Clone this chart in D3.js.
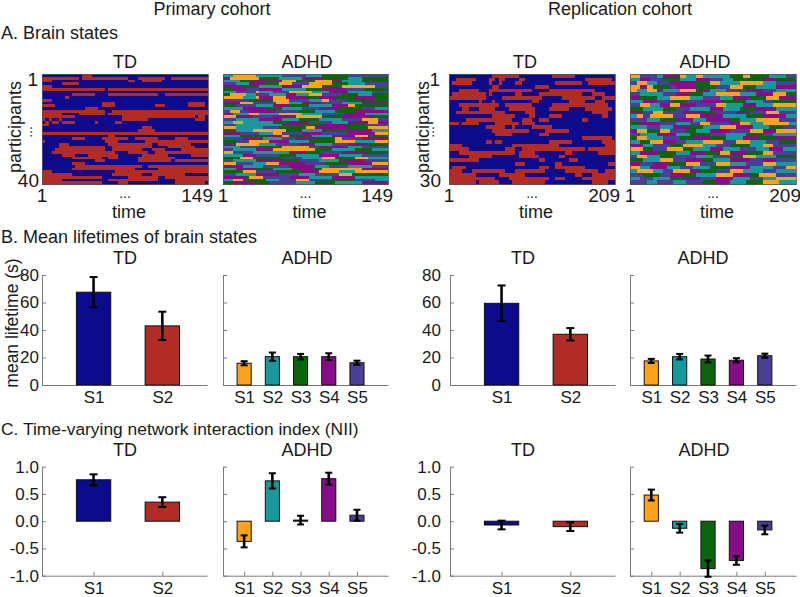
<!DOCTYPE html>
<meta charset="utf-8">
<style>
body { margin: 0; background: #fff; }
svg { font-family: 'Liberation Sans', Arial, sans-serif; fill: #1a1a1a; }
.axis path, .axis line { stroke: #7a7a7a; stroke-width: 1; }
.axis text { fill: #1a1a1a; font-family: 'Liberation Sans', Arial, sans-serif; }
</style>
<body>
<div id="fig"></div>
<script src="https://d3js.org/d3.v7.min.js"></script>
<script>
// state sequences at 50 time blocks per participant
// each row: "<state><first block>" change points, b/r = TD S1/S2, o t g p s = ADHD S1..S5
var nBlocks = 50;

var tdPrimary = [
  "b0 r12 b15", "r0 b11 r12 b26 r29 b37 r39", "r0 b3 r26 b28 r30 b36", "b0 r6 b11", "r0 b3",
  "r0 b19 r20", "b0", "b0 r9 b16 r20 b35 r37", "b0 r7 b8", "r0 b3",
  "b0 r18 b22 r44 b49", "r0 b4 r18 b22 r34 b37 r44 b49", "b0 r13 b17", "r0 b19 r21", "r0 b6 r11 b19 r20",
  "r0 b10 r24 b46 r47 b49", "r0 b1 r2 b3 r5 b6 r24 b32 r46 b49", "b0 r1 b2 r3 b5 r6 b10 r16 b17 r22 b24", "r0 b2", "b0 r30 b33",
  "b0 r29 b34", "r0", "b0 r20 b22", "b0 r9 b13 r18 b26 r28 b35 r40 b44", "r0 b1 r19 b23 r31",
  "b0 r5 b8 r20 b33 r35 b45", "b0 r5 b19 r21 b33 r38 b46", "b0 r4 b19 r21 b30 r33 b37 r42", "b0 r3 b22 r26 b32 r34", "b0 r6 b10 r14 b23 r30 b38 r45",
  "b0 r9 b18 r20 b23 r29 b40", "b0 r16 b19 r29 b39 r40", "b0 r9 b13", "b0 r10 b30 r32", "b0 r9 b28 r35",
  "r0 b3 r22", "r0 b9 r21 b30 r33 b43", "r0 b18 r26 b35 r37", "r0 b6 r20 b35 r40", "r0 b18 r23 b26 r40 b49"
];

var adhdPrimary = [
  "t0 o3 t10 s18 t25 g30 s38", "p0 o2 g11 t17 p24 g30 t38 g42", "t0 g5 p10 o18 g22 o28 p33 t36 g42",
  "s0 t4 p8 g12 o17 s21 o26 g33 t38 s43", "p0 g6 t11 p18 o24 g30 o36 s46", "g0 p3 s7 p11 t18 g25 p30 s37 g43",
  "t0 s4 o10 t11 s15 o20 t27 p32 t38 s45", "g0 o2 t7 s10 t14 p19 t22 o26 s30 g36 t41 g45", "o0 t6 o10 p11 o15 p19 g25 p29 g34 p40 g46",
  "s0 g8 o15 s20 t26 o30 s32 g38", "p0 o5 s9 o16 t20 p24 s30 t36 p42", "g0 s4 t10 p15 g20 t26 p33 o38 g40",
  "t0 p6 g13 t18 s24 p29 g35 s42 t46", "s0 o2 s5 p8 s16 g23 t28 g34 p40", "p0 t3 o8 t11 o17 t24 s30 p37 t43",
  "o0 p4 s9 p15 o22 g30 p36 g45", "s0 t4 p11 t18 g23 t29 s36 o42 s47", "t0 o3 t6 g15 p20 s26 t33 p38 o44 p47",
  "s0 t4 p18 g24 p31 g37 s43", "o0 t4 s12 g17 o25 p28 g38 o44", "g0 t4 o9 g19 t24 g30 p38 t45",
  "p0 s5 t11 o15 s18 p24 s30 p38 o46", "t0 g5 p13 o18 g20 t27 p33 o40 g44", "s0 p6 t12 s18 p22 g28 o34 s36 p42",
  "g0 s4 o8 p14 t20 g26 o34 t40 o46", "p0 o4 t11 s16 p23 t28 s33 p38 g44", "t0 s5 g10 o18 s26 p29 t38 s42",
  "s0 t3 p10 o15 g28 t33 g40 t45", "o0 s3 t9 p20 g25 s30 p36 g44", "t0 p6 s10 g17 t22 p29 t35 s42",
  "g0 o5 g9 s18 t24 o30 g34 o40 t44", "s0 t3 p10 g18 s23 t29 p35 s43", "o0 s4 t9 o13 p17 s25 g31 p38 o45",
  "p0 t6 s12 p20 t28 s32 t38 s45", "t0 p4 g10 t15 p21 g27 o30 p42", "g0 o6 s10 g16 p24 o29 t35 o40",
  "s0 t4 p10 s17 t23 s28 o35 g39", "p0 g7 o8 s12 p20 t26 p33 t40", "t0 o3 g6 t13 s17 o22 s26 g33 s40 t46",
  "g0 p3 g10 s14 t22 g28 t34 p42"
];

var tdReplication = [
  "b0 r13 b21 r31 b38", "b0 r2 b8 r12 b14 r15 b17 r21 b23 r41 b49", "b0 r1 b7 r12 b13 r15 b16 r20 b22 r32 b40 r42",
  "b0 r13 b15 r26 b30", "b0 r3 b9 r12 b25 r30 b44", "b0 r1 b11 r12 b13 r20 b22 r27 b40 r43 b47",
  "r0 b11 r16 b28 r34 b44 r46", "b0 r9 b10 r13 b14 r25 b27 r36 b41 r44 b47", "b0 r3 b15 r17 b25 r31 b48",
  "b0 r4 b6 r9 b14 r18 b26 r30 b36 r41 b49", "b0 r2 b17 r23 b26 r43 b48", "b0 r13 b20 r24 b26 r30 b34 r46 b48",
  "b0 r5 b19 r22 b25 r27 b30 r40 b42", "r0 b3 r4 b9 r14 b21 r22 b26", "b0 r11 b17 r19 b20 r25 b31",
  "b0 r13 b24 r29 b36", "b0 r14 b19 r27 b30", "b0 r40 b49",
  "b0 r11 b13 r14 b16 r30 b37 r46", "r0 b4 r19 b33 r47", "r0 b6 r17 b20 r22 b41 r42",
  "b0 r3 b20 r21 b26 r35 b37 r45", "b0 r6 b13 r21 b27 r33 b35", "r0 b9 r27 b29 r36 b39",
  "b0 r20 b23 r32 b34 r48", "b0 r1 b5 r27 b30 r32 b41", "r0 b4 r7 b17 r20 b29 r35 b45 r47",
  "r0 b8 r15 b23 r38 b40 r43", "r0 b14 r18 b30 r32 b35 r40", "r0 b8 r9 b15 r19 b29 r43 b48"
];

var adhdReplication = [
  "o0 s3 t8 p10 o15 t17 o20 t22 g30 o34 g36 t42 s47", "t0 p3 s6 g10 t15 p20 s24 t28 g31 p40 g44",
  "s0 o2 t5 s8 p12 g20 o24 t27 o33 t40 s44", "o0 p3 o5 g7 s12 p14 g20 s26 o30 g34 t38 p44",
  "o0 t2 o5 p8 t10 o15 p20 t24 s29 p35 s40 t44", "s0 t3 s10 p14 g18 t22 o26 t33 p38 o43 g47",
  "p0 g3 t8 o12 t18 s22 t27 p31 g36 o41 p45", "t0 p4 s8 g13 s17 p21 g28 t35 s40 g43",
  "s0 o3 t6 p9 o12 p15 s20 o26 t29 p34 t38 o43", "g0 t4 g10 s14 t18 p24 t28 g33 p38 t44",
  "p0 s4 o7 s10 p16 g22 s26 p32 s36 o41 s45", "t0 o2 s4 o6 s13 o17 p21 t28 g35 p40 t47",
  "s0 t5 g9 p14 t19 p23 g30 t33 o38 s45", "g0 p3 s9 t14 s18 o21 s24 p30 o33 t36 o40 t48",
  "t0 s5 t9 p13 g18 t22 o27 p32 t37 g42 s46", "p0 o2 g5 o9 s12 g17 t20 p24 s30 o36 p40 o44",
  "s0 t3 p8 t14 g18 s24 t29 g35 s40 t43", "g0 o2 t5 s10 g15 p19 g24 t29 p34 g39 p44",
  "t0 g3 o6 p10 s14 t17 o22 s28 o32 t36 s41 g45", "p0 t4 s7 g12 o16 t22 s26 g30 t36 o40 s43",
  "o0 g4 s7 o11 g16 t19 p24 t28 s33 t38 p42 t46", "t0 p3 g8 t14 p18 g23 o27 p30 g35 o40 s43",
  "s0 o2 t5 g9 s13 t20 s25 g31 o34 t38 g44", "g0 t4 o9 s13 p17 g22 t25 p30 s36 p40 s44",
  "p0 s3 p7 g11 o17 s21 o26 t30 s35 o40 t44", "o0 t3 p6 t11 s15 t19 g24 p30 t36 s43 o47",
  "t0 o2 t7 s10 o13 p18 g21 s26 o30 t34 s40 t44", "s0 g4 s9 p12 g16 t20 o26 p31 g36 o39 s44",
  "t0 s3 t7 g12 p16 s21 p26 t31 s36 t40 o44", "s0 t5 s8 t13 s17 g22 p26 t30 g35 o40 t45"
];

var tdStates = ["S1", "S2"];
var adhdStates = ["S1", "S2", "S3", "S4", "S5"];
var tdCodes = ["b", "r"];
var adhdCodes = ["o", "t", "g", "p", "s"];

// mean lifetime (s) and its error
var lifePrimTD = [67.5, 43.0],        lifePrimTDErr = [11, 10.3];
var lifePrimADHD = [15.8, 20.6, 20.6, 20.6, 16.2], lifePrimADHDErr = [1.5, 3, 2, 2.5, 1.5];
var lifeRepTD = [59.4, 36.9],         lifeRepTDErr = [13, 4.5];
var lifeRepADHD = [17.5, 20.6, 18.9, 18.0, 21.3],  lifeRepADHDErr = [1.5, 2, 2.5, 1.5, 1.5];

// network interaction index
var niiPrimTD = [0.76, 0.35],         niiPrimTDErr = [0.1, 0.09];
var niiPrimADHD = [-0.37, 0.74, 0.02, 0.78, 0.11], niiPrimADHDErr = [0.11, 0.14, 0.08, 0.11, 0.1];
var niiRepTD = [-0.07, -0.1],         niiRepTDErr = [0.08, 0.08];
var niiRepADHD = [0.48, -0.13, -0.87, -0.72, -0.16], niiRepADHDErr = [0.1, 0.08, 0.15, 0.08, 0.08];

var lifeTicks = [0, 20, 40, 60, 80];
var niiTicks = [-1, -0.5, 0, 0.5, 1];

var stateColor = {
  b: "#0b0b8c", r: "#b22b24",
  o: "#ffa31c", t: "#16999b", g: "#0b650b", p: "#890b8a", s: "#4a3f97"
};

var svg = d3.select('#fig')
            .append('svg')
            .attr('width', 800)
            .attr('height', 597);

function label(x, y, txt, size, anchor, rot) {
  var t = svg.append('text')
     .attr('x', x)
     .attr('y', y)
     .attr('font-size', size)
     .attr('text-anchor', anchor || 'start')
     .text(txt);
  if (rot) t.attr('transform', 'rotate(' + rot + ',' + x + ',' + y + ')');
  return t;
}

function runs(str) {
  var t = str.trim().split(/\s+/).map(function(s) { return {code: s[0], start: +s.slice(1)}; });
  t.forEach(function(d, i) { d.end = i < t.length - 1 ? t[i + 1].start : nBlocks; });
  return t;
}

function heatmap(rows, x0, x1) {
  var x = d3.scaleLinear().domain([0, nBlocks]).range([x0, x1]);
  var y = d3.scaleBand().domain(d3.range(rows.length)).range([74, 184]);
  var g = svg.append('g').attr('shape-rendering', 'crispEdges');
  rows.forEach(function(r, i) {
    g.selectAll(null)
      .data(runs(r))
      .enter().append('rect')
      .attr('x', function(d) { return x(d.start); })
      .attr('width', function(d) { return x(d.end) - x(d.start); })
      .attr('y', y(i))
      .attr('height', y.bandwidth() + 0.5)
      .attr('fill', function(d) { return stateColor[d.code]; });
  });
  g.append('rect')
    .attr('x', x0).attr('y', 74)
    .attr('width', x1 - x0).attr('height', 110)
    .attr('fill', 'none').attr('stroke', '#555').attr('stroke-width', 0.8);
}

function barPanel(o) {
  var n = o.cats.length;
  var x = d3.scaleLinear().domain([0.25, n === 2 ? 2.65 : 6.1]).range([o.x0, o.x1]);
  var y = o.y;
  var g = svg.append('g');

  g.append('g')
    .attr('class', 'axis')
    .attr('transform', 'translate(' + o.x0 + ',0)')
    .call(d3.axisLeft(y).tickValues(o.ticks).tickSizeInner(-4).tickSizeOuter(0)
      .tickPadding(o.pad)
      .tickFormat(o.showLabels ? o.fmt : ''))
    .selectAll('text').attr('font-size', 17);

  g.append('g')
    .attr('class', 'axis')
    .attr('transform', 'translate(0,' + y.range()[0] + ')')
    .call(d3.axisBottom(x).tickValues(d3.range(1, n + 1)).tickSizeInner(-4).tickSizeOuter(0)
      .tickPadding(6)
      .tickFormat(function(d) { return o.cats[d - 1]; }))
    .selectAll('text').attr('font-size', 17);

  var data = o.vals.map(function(v, i) { return {i: i + 1, v: v, e: o.errs[i], c: o.codes[i]}; });

  g.selectAll('rect.bar').data(data).enter().append('rect')
    .attr('class', 'bar')
    .attr('x', function(d) { return x(d.i - 0.25); })
    .attr('width', x(1.25) - x(0.75))
    .attr('y', function(d) { return y(Math.max(0, d.v)); })
    .attr('height', function(d) { return Math.abs(y(0) - y(d.v)); })
    .attr('fill', function(d) { return stateColor[d.c]; })
    .attr('stroke', '#111').attr('stroke-width', 1);

  var cap = n === 2 ? 4 : 3.5;
  var eb = g.selectAll('g.err').data(data).enter().append('g')
    .attr('stroke', '#000').attr('stroke-width', 2.6);
  eb.append('line')
    .attr('x1', function(d) { return x(d.i); }).attr('x2', function(d) { return x(d.i); })
    .attr('y1', function(d) { return y(d.v - d.e); }).attr('y2', function(d) { return y(d.v + d.e); });
  eb.append('line')
    .attr('x1', function(d) { return x(d.i) - cap; }).attr('x2', function(d) { return x(d.i) + cap; })
    .attr('y1', function(d) { return y(d.v + d.e); }).attr('y2', function(d) { return y(d.v + d.e); })
    .attr('stroke-width', 2);
  eb.append('line')
    .attr('x1', function(d) { return x(d.i) - cap; }).attr('x2', function(d) { return x(d.i) + cap; })
    .attr('y1', function(d) { return y(d.v - d.e); }).attr('y2', function(d) { return y(d.v - d.e); })
    .attr('stroke-width', 2);
}

// headers
label(212, 15, 'Primary cohort', 18, 'middle');
label(620, 15, 'Replication cohort', 18, 'middle');

// A. brain states
label(1, 39, 'A. Brain states', 18);
label(125, 68, 'TD', 18, 'middle');
label(307, 68, 'ADHD', 18, 'middle');
label(525, 68, 'TD', 18, 'middle');
label(705, 68, 'ADHD', 18, 'middle');

heatmap(tdPrimary, 42, 208);
heatmap(adhdPrimary, 223, 388);
heatmap(tdReplication, 449, 615);
heatmap(adhdReplication, 630, 796);

[[42, 208, '149', 38, '40', 21], [223, 388, '149'], [449, 615, '209', 440, '30', 429], [630, 796, '209']]
  .forEach(function(p) {
    label(p[0], 202, '1', 19, 'middle');
    label(p[1] + 5, 202, p[2], 19, 'end');
    label((p[0] + p[1]) / 2, 198, '...', 14, 'middle');
    label((p[0] + p[1]) / 2 + 4, 218, 'time', 18, 'middle');
    if (p[3]) {
      label(p[3], 86, '1', 19, 'end');
      label(p[3] + 1, 187, p[4], 19, 'end');
      label(p[3] - 6, 132, '...', 14, 'middle', -90);
      label(p[5], 127, 'participants', 18, 'middle', -90);
    }
  });

// B. mean lifetimes
label(1, 243, 'B. Mean lifetimes of brain states', 18);
label(125, 264, 'TD', 18, 'middle');
label(307, 264, 'ADHD', 18, 'middle');
label(523, 264, 'TD', 18, 'middle');
label(703, 264, 'ADHD', 18, 'middle');
label(18, 323, 'mean lifetime (s)', 17.5, 'middle', -90);

var yLife = d3.scaleLinear().domain([0, 80]).range([385, 275]);
var fmtLife = function(d) { return d; };
barPanel({x0: 42, x1: 207, cats: tdStates, codes: tdCodes, vals: lifePrimTD, errs: lifePrimTDErr,
  y: yLife, ticks: lifeTicks, showLabels: true, fmt: fmtLife, pad: 3});
barPanel({x0: 223, x1: 388, cats: adhdStates, codes: adhdCodes, vals: lifePrimADHD, errs: lifePrimADHDErr,
  y: yLife, ticks: lifeTicks, showLabels: false, pad: 3});
barPanel({x0: 450, x1: 615, cats: tdStates, codes: tdCodes, vals: lifeRepTD, errs: lifeRepTDErr,
  y: yLife, ticks: lifeTicks, showLabels: true, fmt: fmtLife, pad: 9});
barPanel({x0: 630, x1: 796, cats: adhdStates, codes: adhdCodes, vals: lifeRepADHD, errs: lifeRepADHDErr,
  y: yLife, ticks: lifeTicks, showLabels: false, pad: 3});

// C. NII
label(1, 435, 'C. Time-varying network interaction index (NII)', 17.4);
label(125, 456, 'TD', 18, 'middle');
label(307, 456, 'ADHD', 18, 'middle');
label(523, 456, 'TD', 18, 'middle');
label(704, 456, 'ADHD', 18, 'middle');

var yNii = d3.scaleLinear().domain([-1, 1]).range([575.7, 466.7]);
var fmtNii = function(d) { return d.toFixed(1); };
barPanel({x0: 42, x1: 207, cats: tdStates, codes: tdCodes, vals: niiPrimTD, errs: niiPrimTDErr,
  y: yNii, ticks: niiTicks, showLabels: true, fmt: fmtNii, pad: 3});
barPanel({x0: 223, x1: 388, cats: adhdStates, codes: adhdCodes, vals: niiPrimADHD, errs: niiPrimADHDErr,
  y: yNii, ticks: niiTicks, showLabels: false, pad: 3});
barPanel({x0: 450, x1: 615, cats: tdStates, codes: tdCodes, vals: niiRepTD, errs: niiRepTDErr,
  y: yNii, ticks: niiTicks, showLabels: true, fmt: fmtNii, pad: 9});
barPanel({x0: 630, x1: 796, cats: adhdStates, codes: adhdCodes, vals: niiRepADHD, errs: niiRepADHDErr,
  y: yNii, ticks: niiTicks, showLabels: false, pad: 3});
</script>
</body>
